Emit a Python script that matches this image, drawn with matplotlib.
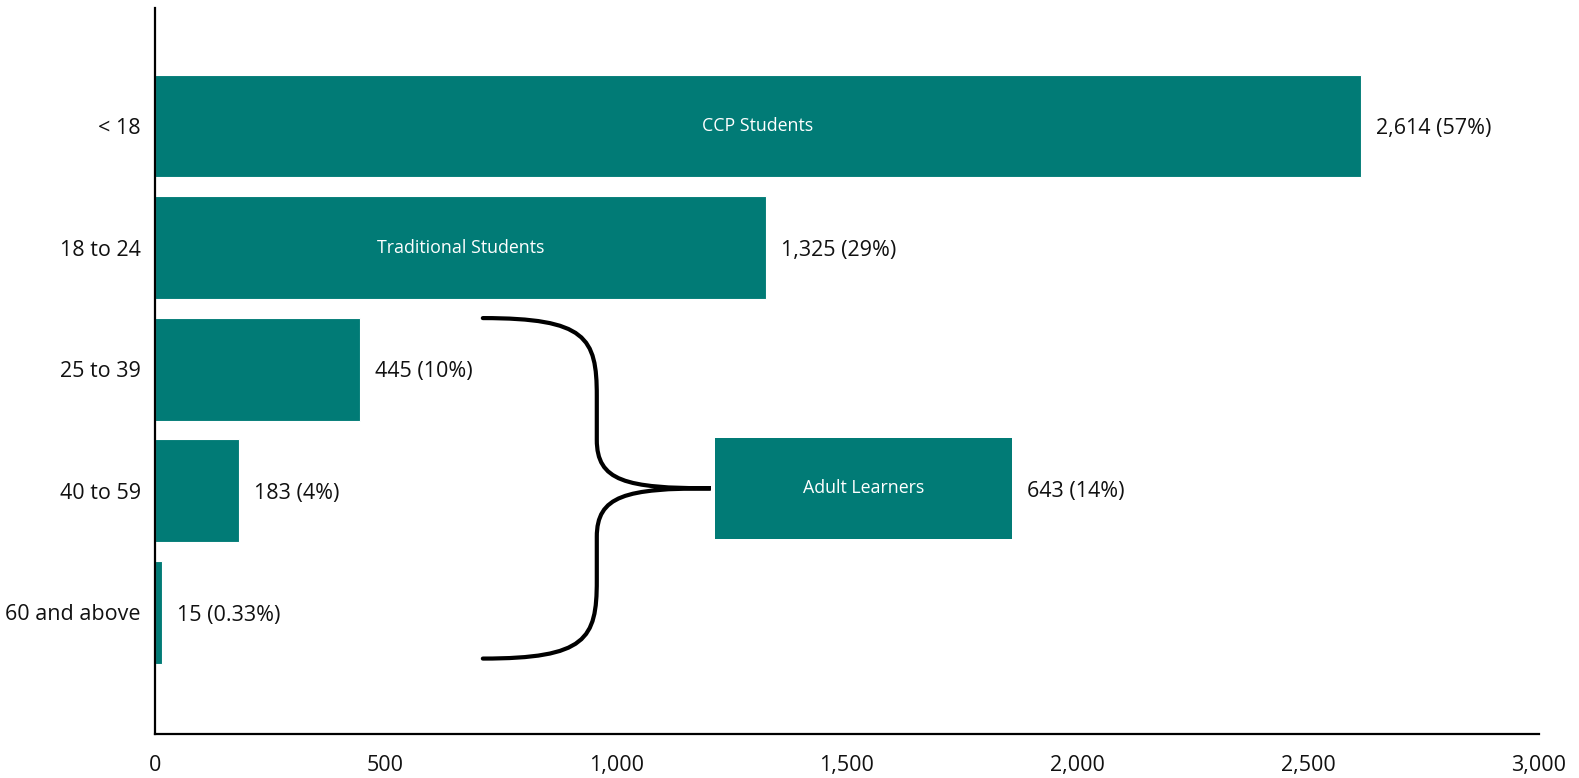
import matplotlib.pyplot as plt
from matplotlib.path import Path
from matplotlib.patches import PathPatch

# age groups and enrolment counts
age_groups = ['< 18', '18 to 24', '25 to 39', '40 to 59', '60 and above']
counts = [2614, 1325, 445, 183, 15]
shares = ['57%', '29%', '10%', '4%', '0.33%']
inner_labels = ['CCP Students', 'Traditional Students', '', '', '']

# combined adult learners bar
adult_label = 'Adult Learners'
adult_count = 643
adult_share = '14%'
adult_start = 1215
adult_pos = 2.98

x_ticks = [0, 500, 1000, 1500, 2000, 2500, 3000]

teal = '#017B76'
plt.rcParams['font.family'] = ['Open Sans', 'DejaVu Sans']

fig = plt.figure(figsize=(15.79, 7.78), dpi=100)
ax = fig.add_axes([0.098, 0.0566, 0.8767, 0.9331])

ypos = list(range(len(age_groups)))
ax.barh(ypos, counts, height=0.845, color=teal, edgecolor='white', linewidth=0.8)

for i in ypos:
    ax.annotate(f'{counts[i]:,} ({shares[i]})', xy=(counts[i], i), xytext=(11, -2),
                textcoords='offset points', va='center', ha='left', fontsize=15.5, color='#111111')
    if inner_labels[i]:
        ax.text(counts[i] / 2, i, inner_labels[i], ha='center', va='center',
                fontsize=12.8, color='white')

# adult learners bar
ax.barh([adult_pos], [adult_count], left=adult_start, height=0.83, color=teal)
ax.text(adult_start + adult_count / 2, adult_pos, adult_label, ha='center', va='center',
        fontsize=12.8, color='white')
ax.annotate(f'{adult_count:,} ({adult_share})', xy=(adult_start + adult_count, adult_pos),
            xytext=(11, -2), textcoords='offset points', va='center', ha='left',
            fontsize=15.5, color='#111111')

# curly brace grouping 25+ ages
x0, xm, xt = 711, 958, 1205
ytop, ymid, ybot = 1.58, adult_pos, 4.38
verts = [
    (x0, ytop), (935, ytop), (xm, 1.74), (xm, 2.22),
    (xm, 2.58),
    (xm, 2.92), (1020, ymid), (xt, ymid),
    (1020, ymid), (xm, 3.04), (xm, 3.38),
    (xm, 3.74),
    (xm, 4.22), (935, ybot), (x0, ybot),
]
codes = [Path.MOVETO, Path.CURVE4, Path.CURVE4, Path.CURVE4,
         Path.LINETO,
         Path.CURVE4, Path.CURVE4, Path.CURVE4,
         Path.CURVE4, Path.CURVE4, Path.CURVE4,
         Path.LINETO,
         Path.CURVE4, Path.CURVE4, Path.CURVE4]
ax.add_patch(PathPatch(Path(verts, codes), facecolor='none', edgecolor='black', lw=3,
                       capstyle='round'))

ax.set_xlim(0, 3000)
ax.set_ylim(5.0, -0.97)
ax.set_yticks(ypos)
ax.set_yticklabels(age_groups, fontsize=15.5)
ax.set_xticks(x_ticks)
ax.set_xticklabels([f'{t:,}' for t in x_ticks], fontsize=15.5)
ax.tick_params(axis='both', length=0, colors='#111111')
ax.tick_params(axis='y', pad=10)
ax.tick_params(axis='x', pad=15)

ax.spines['top'].set_visible(False)
ax.spines['right'].set_visible(False)
ax.spines['left'].set_linewidth(1.6)
ax.spines['bottom'].set_linewidth(1.6)

fig.savefig('out.png', dpi=100)
